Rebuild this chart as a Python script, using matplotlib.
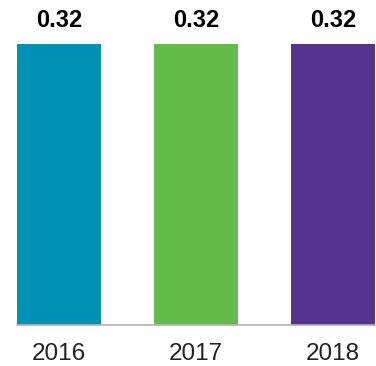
import matplotlib
matplotlib.use("Agg")
import matplotlib.pyplot as plt

# data
years = ["2016", "2017", "2018"]
values = [0.32, 0.32, 0.32]
colors = ["#0091B7", "#63BB4A", "#573391"]

plt.rcParams['font.family'] = ['Liberation Sans', 'DejaVu Sans']

fig = plt.figure(figsize=(3.76, 3.66), dpi=100)
ax = fig.add_axes([17 / 376, 41 / 366, 358 / 376, 281 / 366])

x = range(len(years))
width = 84 / 137
bars = ax.bar(x, values, width=width, color=colors)

ax.set_xlim(-width / 2, len(years) - 1 + width / 2)
ax.set_ylim(0, 0.32)

# value labels on top
for b, v in zip(bars, values):
    ax.annotate(f"{v:.2f}", (b.get_x() + b.get_width() / 2, v),
                xytext=(0, 12), textcoords="offset pixels",
                ha="center", va="bottom", fontsize=17, fontweight="bold",
                annotation_clip=False)

for s in ["top", "right", "left"]:
    ax.spines[s].set_visible(False)
ax.spines["bottom"].set_color("#b3b3b3")
ax.spines["bottom"].set_linewidth(1.2)

ax.set_yticks([])
ax.set_xticks(list(x))
ax.set_xticklabels(years, fontsize=17.5, color="#222222")
ax.tick_params(axis="x", length=0, pad=13)

fig.savefig("out.png", dpi=100)
